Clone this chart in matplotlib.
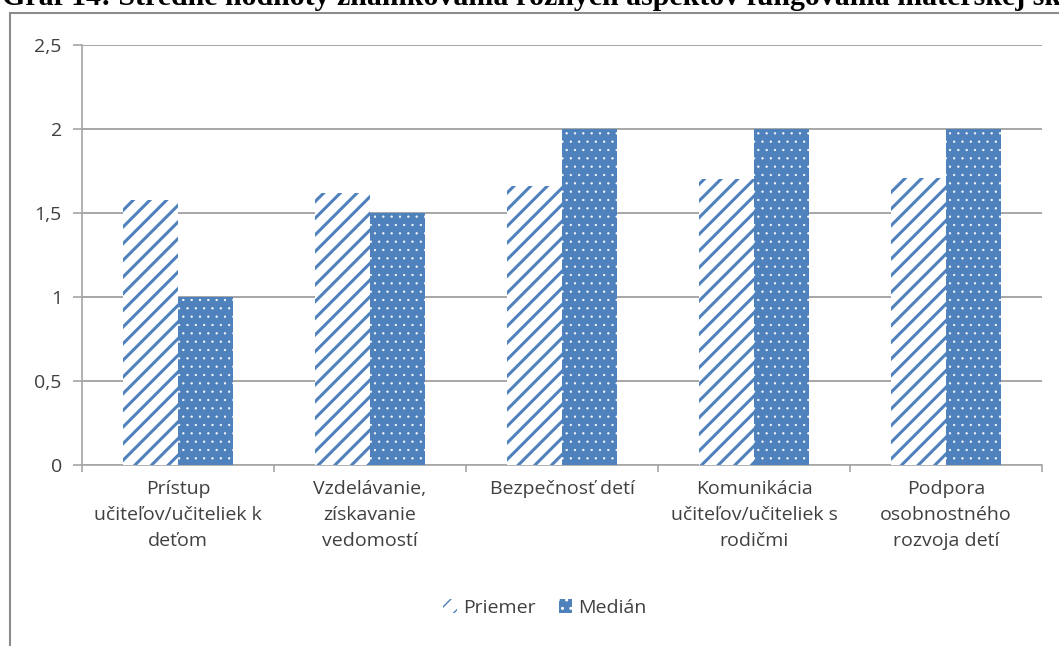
import matplotlib.pyplot as plt
import numpy as np
from matplotlib.patches import Rectangle

categories = [
    "Prístup\nučiteľov/učiteliek k\ndeťom",
    "Vzdelávanie,\nzískavanie\nvedomostí",
    "Bezpečnosť detí",
    "Komunikácia\nučiteľov/učiteliek s\nrodičmi",
    "Podpora\nosobnostného\nrozvoja detí",
]
priemer = [1.58, 1.62, 1.66, 1.70, 1.71]
median = [1.0, 1.5, 2.0, 2.0, 2.0]
yticks = [0, 0.5, 1, 1.5, 2, 2.5]
ytick_labels = ["0", "0,5", "1", "1,5", "2", "2,5"]

blue = "#4F81BD"
grid_grey = "#A6A6A6"
text_grey = "#404040"

plt.rcParams["font.family"] = ["Open Sans", "DejaVu Sans"]


def main():
    fig = plt.figure(figsize=(10.59, 6.46), dpi=100)
    ax = fig.add_axes([82 / 1059, 1 - 465 / 646, (1042 - 82) / 1059, 420 / 646])

    x = np.arange(len(categories))
    w = 0.285

    with plt.rc_context({"hatch.linewidth": 2.2}):
        b1 = ax.bar(x - w / 2, priemer, w, facecolor="white", edgecolor=blue,
                    linewidth=0, hatch="//", label="Priemer", zorder=3)
    with plt.rc_context({"hatch.linewidth": 0.4}):
        b2 = ax.bar(x + w / 2, median, w, facecolor=blue, edgecolor="white",
                    linewidth=0, hatch="..", label="Medián", zorder=3)

    ax.set_xlim(-0.5, len(categories) - 0.5)
    ax.set_ylim(0, 2.5)
    ax.set_yticks(yticks)
    ax.set_yticklabels(ytick_labels)
    ax.grid(axis="y", color=grid_grey, linewidth=1.4, zorder=0)
    for s in ["top", "right"]:
        ax.spines[s].set_visible(False)
    for s in ["left", "bottom"]:
        ax.spines[s].set_color(grid_grey)
        ax.spines[s].set_linewidth(1.2)
    ax.tick_params(axis="y", length=6.5, color=grid_grey, width=1.2, pad=8,
                   labelsize=14, labelcolor=text_grey)

    ax.set_xticks(np.arange(len(categories) + 1) - 0.5)
    ax.set_xticklabels([])
    ax.tick_params(axis="x", which="major", length=5, color=grid_grey, width=1.2)
    ax.set_xticks(x, minor=True)
    ax.set_xticklabels(categories, minor=True, fontsize=14, color=text_grey,
                       linespacing=1.55)
    ax.tick_params(axis="x", which="minor", length=0, pad=11)

    fig.legend(handles=[b1, b2], loc="center", bbox_to_anchor=(545 / 1059, 1 - 608 / 646),
               ncol=2, frameon=False, fontsize=14, labelcolor=text_grey,
               handlelength=0.7, handleheight=0.7, handletextpad=0.3, columnspacing=1.2)

    # chart area border
    fig.patches.append(Rectangle((10 / 1059, -0.1), 1.2, 1 - 13 / 646 + 0.1,
                                 transform=fig.transFigure, fill=False,
                                 edgecolor="#8C8C8C", linewidth=1.5))

    fig.text(0.002, 1 - 5 / 646,
             "Graf 14: Stredné hodnoty známkovania rôznych aspektov fungovania materskej školy",
             family="Liberation Serif", fontweight="bold", fontsize=21.5,
             ha="left", va="baseline", color="black")

    fig.savefig("out.png", dpi=100)


if __name__ == "__main__":
    main()
